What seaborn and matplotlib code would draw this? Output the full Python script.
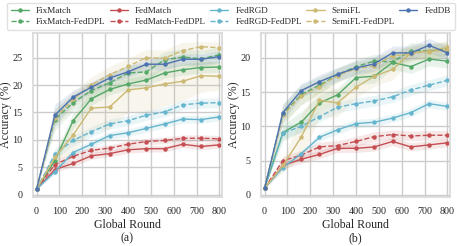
"""Accuracy vs global round for FedDPL variants, two settings (a) and (b)."""
import matplotlib
matplotlib.use("Agg")
import matplotlib.pyplot as plt
import numpy as np
import seaborn as sns

sns.set_theme(style="whitegrid", palette="deep")
plt.rcParams["font.family"] = ["Liberation Serif", "DejaVu Serif"]

ROUNDS = [0, 80, 160, 240, 320, 400, 480, 560, 640, 720, 800]

# panel (a)
A_FIXMATCH = [1, 6.2, 13.5, 17.5, 19.2, 20.2, 20.9, 22.2, 22.8, 23.2, 23.3]
A_FIXMATCH_DPL = [1, 13.7, 16.8, 19.0, 20.4, 22.2, 22.4, 24.6, 25.1, 24.8, 25.5]
A_FEDMATCH = [1, 4.6, 5.7, 7.1, 7.5, 8.2, 8.4, 8.4, 9.2, 8.8, 9.1]
A_FEDMATCH_DPL = [1, 5.5, 7.0, 8.1, 8.5, 9.2, 9.7, 9.9, 10.3, 10.3, 10.2]
A_FEDRGD = [1, 4.2, 7.7, 9.2, 10.8, 11.3, 12.1, 12.9, 13.8, 13.7, 14.2]
A_FEDRGD_DPL = [1, 7.4, 9.9, 11.5, 12.9, 13.5, 14.5, 15.1, 16.4, 16.7, 16.8]
A_SEMIFL = [1, 6.8, 10.9, 15.8, 16.0, 19.1, 19.5, 20.2, 20.7, 21.7, 21.6]
A_SEMIFL_DPL = [1, 14.0, 17.4, 20.0, 21.9, 23.4, 25.0, 24.9, 26.3, 27.0, 26.8]
A_FEDDB = [1, 14.5, 17.8, 19.6, 21.3, 22.4, 23.8, 23.8, 24.7, 24.7, 25.2]

A_FIXMATCH_SD = [0, 1.0, 1.5, 1.2, 1.0, 1.0, 1.0, 1.0, 1.0, 1.0, 1.0]
A_FIXMATCH_DPL_SD = [0, 2.0, 1.5, 1.5, 1.5, 1.5, 1.5, 1.5, 1.5, 1.5, 1.5]
A_FEDMATCH_SD = [0, 0.5, 0.6, 0.6, 0.6, 0.6, 0.6, 0.6, 0.6, 0.6, 0.6]
A_FEDMATCH_DPL_SD = [0, 0.8, 0.7, 0.6, 0.6, 0.6, 0.6, 0.6, 0.6, 0.6, 0.6]
A_FEDRGD_SD = [0, 0.5, 0.6, 0.7, 0.7, 0.7, 0.7, 0.7, 0.7, 0.7, 0.7]
A_FEDRGD_DPL_SD = [0, 1.0, 0.9, 0.9, 0.9, 0.9, 0.9, 0.9, 0.9, 0.9, 0.9]
A_SEMIFL_SD = [0, 1.0, 3.0, 4.0, 4.0, 4.0, 4.5, 4.0, 3.5, 3.0, 2.5]
A_SEMIFL_DPL_SD = [0, 1.5, 1.5, 1.5, 1.5, 1.5, 1.5, 1.5, 1.5, 1.0, 1.0]
A_FEDDB_SD = [0, 2.0, 1.2, 1.0, 1.0, 1.0, 1.0, 1.0, 1.0, 1.0, 1.0]

# panel (b)
B_FIXMATCH = [1, 9.1, 10.6, 13.4, 14.6, 17.1, 17.3, 19.3, 18.7, 19.8, 19.5]
B_FIXMATCH_DPL = [1, 11.8, 14.6, 16.0, 17.5, 18.7, 19.5, 19.4, 21.0, 21.0, 21.3]
B_FEDMATCH = [1, 4.3, 5.2, 5.9, 6.8, 6.8, 7.0, 7.8, 7.0, 7.3, 7.6]
B_FEDMATCH_DPL = [1, 5.0, 5.8, 7.0, 7.2, 7.8, 8.5, 8.8, 8.6, 8.7, 8.7]
B_FEDRGD = [1, 4.0, 6.0, 8.4, 9.5, 10.4, 10.6, 11.2, 12.0, 13.3, 12.9]
B_FEDRGD_DPL = [1, 9.0, 10.0, 11.4, 12.8, 13.3, 13.7, 14.3, 15.3, 16.0, 16.7]
B_SEMIFL = [1, 4.3, 8.4, 13.8, 13.4, 15.7, 17.3, 18.3, 20.7, 20.9, 21.1]
B_SEMIFL_DPL = [1, 11.6, 14.4, 15.8, 17.4, 18.4, 18.8, 20.3, 20.5, 21.0, 21.5]
B_FEDDB = [1, 12.0, 15.2, 16.5, 17.6, 18.5, 19.1, 20.7, 20.7, 21.8, 20.7]

B_FIXMATCH_SD = [0, 1.2, 1.5, 1.2, 1.0, 1.0, 1.0, 1.0, 1.0, 1.0, 1.0]
B_FIXMATCH_DPL_SD = [0, 1.5, 1.5, 1.2, 1.0, 1.0, 1.0, 1.0, 1.2, 1.0, 1.0]
B_FEDMATCH_SD = [0, 0.5, 0.6, 0.6, 0.6, 0.6, 0.6, 0.6, 0.6, 0.6, 0.6]
B_FEDMATCH_DPL_SD = [0, 0.6, 0.7, 0.7, 0.7, 0.7, 0.7, 0.7, 0.7, 0.7, 0.7]
B_FEDRGD_SD = [0, 0.4, 0.5, 0.6, 0.6, 0.6, 0.6, 0.6, 0.6, 0.6, 0.6]
B_FEDRGD_DPL_SD = [0, 0.8, 0.8, 0.8, 0.8, 0.8, 0.8, 0.8, 0.8, 0.8, 0.8]
B_SEMIFL_SD = [0, 1.0, 3.0, 2.5, 2.0, 1.5, 1.5, 1.5, 1.2, 1.0, 1.0]
B_SEMIFL_DPL_SD = [0, 1.2, 1.2, 1.0, 1.0, 1.0, 1.0, 1.0, 1.0, 1.0, 1.0]
B_FEDDB_SD = [0, 1.2, 1.0, 1.0, 1.0, 1.0, 1.0, 1.0, 1.0, 1.0, 1.0]

METHODS = ["FixMatch", "FixMatch-FedDPL", "FedMatch", "FedMatch-FedDPL",
           "FedRGD", "FedRGD-FedDPL", "SemiFL", "SemiFL-FedDPL", "FedDB"]

deep = sns.color_palette("deep")
STYLE = {
    "FixMatch": (deep[2], "-"),
    "FixMatch-FedDPL": (deep[2], "--"),
    "FedMatch": (deep[3], "-"),
    "FedMatch-FedDPL": (deep[3], "--"),
    "FedRGD": (deep[9], "-"),
    "FedRGD-FedDPL": (deep[9], "--"),
    "SemiFL": (deep[8], "-"),
    "SemiFL-FedDPL": (deep[8], "--"),
    "FedDB": (deep[0], "-"),
}

PANELS = [
    ("(a)", [A_FIXMATCH, A_FIXMATCH_DPL, A_FEDMATCH, A_FEDMATCH_DPL, A_FEDRGD,
             A_FEDRGD_DPL, A_SEMIFL, A_SEMIFL_DPL, A_FEDDB],
     [A_FIXMATCH_SD, A_FIXMATCH_DPL_SD, A_FEDMATCH_SD, A_FEDMATCH_DPL_SD, A_FEDRGD_SD,
      A_FEDRGD_DPL_SD, A_SEMIFL_SD, A_SEMIFL_DPL_SD, A_FEDDB_SD],
     [0, 5, 10, 15, 20, 25], (-0.42, 29.5)),
    ("(b)", [B_FIXMATCH, B_FIXMATCH_DPL, B_FEDMATCH, B_FEDMATCH_DPL, B_FEDRGD,
             B_FEDRGD_DPL, B_SEMIFL, B_SEMIFL_DPL, B_FEDDB],
     [B_FIXMATCH_SD, B_FIXMATCH_DPL_SD, B_FEDMATCH_SD, B_FEDMATCH_DPL_SD, B_FEDRGD_SD,
      B_FEDRGD_DPL_SD, B_SEMIFL_SD, B_SEMIFL_DPL_SD, B_FEDDB_SD],
     [0, 5, 10, 15, 20], (-0.3, 23.6)),
]

fig = plt.figure(figsize=(4.57, 2.46), dpi=100)
axes = [fig.add_axes([0.072, 0.199, 0.414, 0.667]),
        fig.add_axes([0.571, 0.199, 0.414, 0.667])]

for ax, (tag, means, sds, yticks, ylim) in zip(axes, PANELS):
    for name, mean, sd in zip(METHODS, means, sds):
        color, ls = STYLE[name]
        m = np.array(mean)
        s = np.array(sd)
        ax.fill_between(ROUNDS, m - s, m + s, color=color, alpha=0.13, linewidth=0)
        sns.lineplot(x=ROUNDS, y=mean, ax=ax, color=color, linestyle=ls,
                     marker="o", markersize=3.2, markeredgewidth=0,
                     linewidth=1.0, label=name, legend=False)
    ax.set_xlim(-16, 812)
    ax.set_ylim(*ylim)
    ax.set_xticks(range(0, 801, 100))
    ax.set_yticks(yticks)
    ax.tick_params(labelsize=7.3, pad=1.5)
    ax.set_ylabel("Accuracy (%)", fontsize=8.6, labelpad=0.5)
    ax.set_xlabel(f"Global Round\n{tag}", fontsize=8.6, labelpad=1.5, linespacing=1.15)
    for sp in ax.spines.values():
        sp.set_color("0.85")

handles, labels = axes[0].get_legend_handles_labels()
fig.legend(handles, labels, loc="lower left", ncol=5, mode="expand",
           bbox_to_anchor=(0.015, 0.878, 0.98, 0.115), fontsize=6.6,
           handlelength=2.0, handletextpad=0.8, borderaxespad=0,
           labelspacing=0.35, frameon=True, edgecolor="0.85")

fig.savefig("out.png", dpi=100)
